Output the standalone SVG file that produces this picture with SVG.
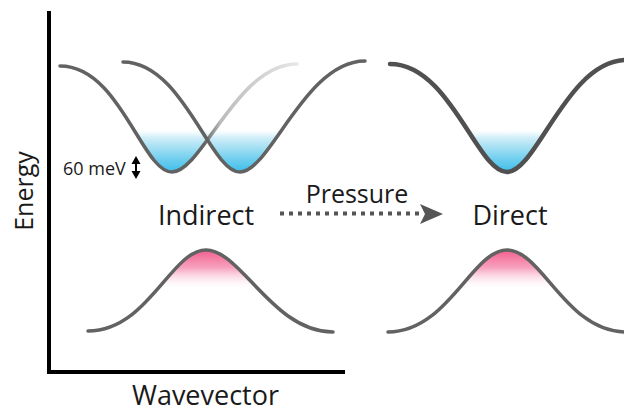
<svg xmlns="http://www.w3.org/2000/svg" width="624" height="414" viewBox="0 0 624 414">
  <style>
    .lbl { font-family: "Open Sans", "Liberation Sans", sans-serif; fill: #1a1a1a; }
    .band { fill: none; stroke: #626262; stroke-width: 3.5; stroke-linecap: round; }
    .axis { stroke: #000; stroke-width: 4; fill: none; }
  </style>
  <defs>
    <linearGradient id="blue" gradientUnits="userSpaceOnUse" x1="0" y1="128" x2="0" y2="173">
      <stop offset="0" stop-color="#ffffff" stop-opacity="0"/>
      <stop offset="0.2" stop-color="#d3eff9"/>
      <stop offset="0.65" stop-color="#78d1ef"/>
      <stop offset="1" stop-color="#38bce9"/>
    </linearGradient>
    <linearGradient id="pink" gradientUnits="userSpaceOnUse" x1="0" y1="250" x2="0" y2="290">
      <stop offset="0" stop-color="#f25f8e"/>
      <stop offset="0.45" stop-color="#f7a3bf"/>
      <stop offset="1" stop-color="#ffffff" stop-opacity="0"/>
    </linearGradient>
    <linearGradient id="fade" gradientUnits="userSpaceOnUse" x1="60" y1="0" x2="300" y2="0">
      <stop offset="0" stop-color="#626262"/>
      <stop offset="0.6" stop-color="#626262"/>
      <stop offset="0.67" stop-color="#bcbcbc"/>
      <stop offset="1" stop-color="#e8e8e8"/>
    </linearGradient>
  </defs>

  <g id="axes">
    <path class="axis" d="M49,11 V372 H345"/>
    <text class="lbl" font-size="25" text-anchor="middle" transform="translate(33,191) rotate(-90)">Energy</text>
    <text class="lbl" font-size="27" x="205.5" y="405" text-anchor="middle">Wavevector</text>
  </g>

  <g id="indirect-conduction">
    <path fill="url(#blue)" d="M60,66 C120,66 142,172 172,172 C202,172 237,64 297,64 Z"/>
    <path fill="url(#blue)" d="M123,62 C183,62 210,172 240,172 C270,172 305,61 365,61 Z"/>
    <path class="band" style="stroke:url(#fade)" d="M60,66 C120,66 142,172 172,172 C202,172 237,64 297,64"/>
    <path class="band" d="M123,62 C183,62 210,172 240,172 C270,172 305,61 365,61"/>
    <text class="lbl" font-size="18" x="63" y="175">60 meV</text>
  </g>

  <g id="indirect-valence">
    <path fill="url(#pink)" d="M88,331 C148,331 171,250 206,250 C241,250 273,332 333,332 Z"/>
    <path class="band" d="M88,331 C148,331 171,250 206,250 C241,250 273,332 333,332"/>
    <text class="lbl" font-size="27" x="206" y="225" text-anchor="middle">Indirect</text>
  </g>

  <g id="direct-conduction">
    <path fill="url(#blue)" d="M390,64 C450,64 477,172 507,172 C537,172 567,60 627,60 Z"/>
    <path class="band" style="stroke:#505050;stroke-width:4.5" d="M390,64 C450,64 477,172 507,172 C537,172 567,60 627,60"/>
  </g>

  <g id="direct-valence">
    <path fill="url(#pink)" d="M388,332 C448,332 472,250 507,250 C542,250 566,332 626,332 Z"/>
    <path class="band" d="M388,332 C448,332 472,250 507,250 C542,250 566,332 626,332"/>
    <text class="lbl" font-size="27" x="510" y="225" text-anchor="middle">Direct</text>
  </g>

  <g id="connectors">
    <line x1="136" y1="162" x2="136" y2="173" stroke="#000" stroke-width="2"/>
    <path d="M131.5,164 L136,156 L140.5,164 Z" fill="#000"/>
    <path d="M131.5,171 L136,179 L140.5,171 Z" fill="#000"/>
    <line x1="280" y1="213.5" x2="421" y2="213.5" stroke="#555" stroke-width="4" stroke-dasharray="4 5"/>
    <path d="M420,204 L443,214 L420,224 L425,214 Z" fill="#555"/>
    <text class="lbl" font-size="25" x="357" y="203" text-anchor="middle">Pressure</text>
  </g>
</svg>
